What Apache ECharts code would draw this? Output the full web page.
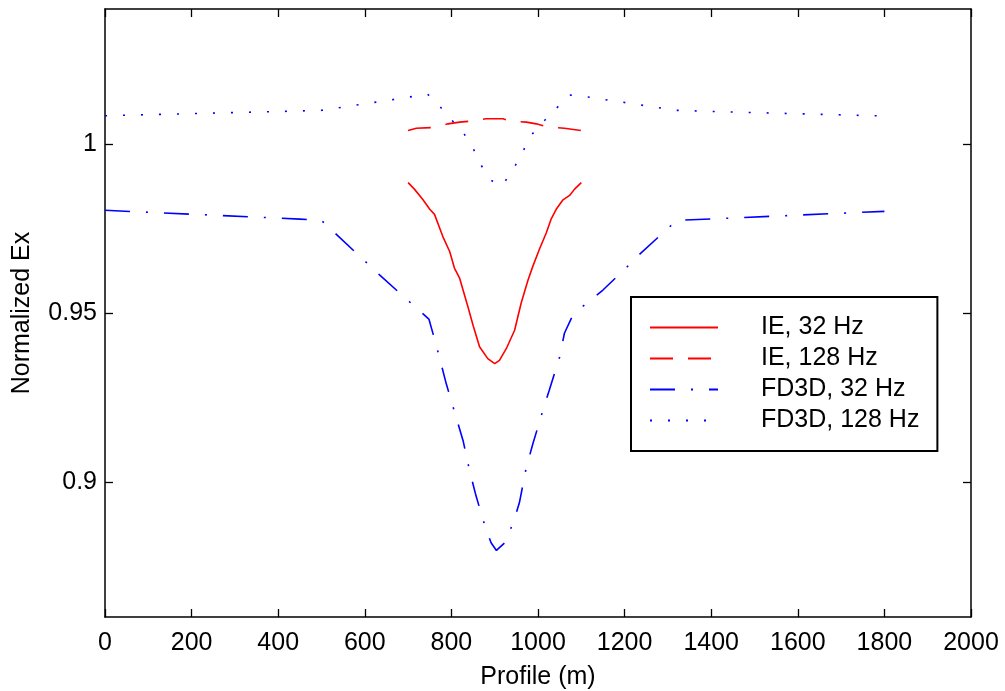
<!DOCTYPE html>
<html>
<head>
<meta charset="utf-8">
<script src="https://cdn.jsdelivr.net/npm/echarts@6/dist/echarts.min.js"></script>
<style>
  html, body { margin: 0; padding: 0; background: #fff; }
  #main { width: 1005px; height: 691px; }
</style>
</head>
<body>
<div id="main"></div>
<script>
// values
const seriesNames = ['IE, 32 Hz', 'IE, 128 Hz', 'FD3D, 32 Hz', 'FD3D, 128 Hz'];

const ie32X = [700, 715, 734, 750, 761, 780, 796, 807, 819, 838, 850, 865, 884, 900, 911, 927, 946, 961, 977, 988, 1003, 1019, 1030, 1042, 1057, 1073, 1084, 1100];
const ie32Y = [0.9886, 0.9866, 0.9836, 0.9807, 0.9792, 0.9727, 0.9682, 0.9633, 0.9603, 0.9519, 0.9464, 0.9400, 0.9365, 0.9350, 0.9360, 0.9395, 0.9449, 0.9529, 0.9598, 0.9638, 0.9688, 0.9737, 0.9777, 0.9807, 0.9834, 0.9848, 0.9866, 0.9886];

const ie128X = [700, 719, 754, 792, 819, 844, 880, 919, 934, 973, 996, 1023, 1061, 1100];
const ie128Y = [1.0040, 1.0047, 1.0049, 1.0060, 1.0065, 1.0068, 1.0075, 1.0075, 1.0069, 1.0065, 1.0060, 1.0051, 1.0047, 1.0040];

const fd32X = [0, 450, 500, 634, 692, 748, 765, 788, 811, 827, 842, 857, 880, 892, 904, 927, 950, 957, 973, 988, 1011, 1026, 1050, 1061, 1077, 1103, 1150, 1203, 1234, 1320, 1800];
const fd32Y = [0.9804, 0.9778, 0.9774, 0.9613, 0.9546, 0.9482, 0.9405, 0.9291, 0.9191, 0.9122, 0.9033, 0.8958, 0.8859, 0.8819, 0.8797, 0.8824, 0.8909, 0.8938, 0.9043, 0.9112, 0.9211, 0.9271, 0.9370, 0.9440, 0.9484, 0.9519, 0.9568, 0.9633, 0.9673, 0.9774, 0.9801];

const fd128X = [0, 415, 500, 661, 745, 773, 800, 828, 850, 867, 889, 910, 921, 944, 964, 982, 1010, 1038, 1075, 1104, 1146, 1186, 1226, 1320, 1392, 1806];
const fd128Y = [1.0084, 1.0097, 1.0100, 1.0131, 1.0148, 1.0112, 1.0072, 1.0033, 0.9988, 0.9941, 0.9896, 0.9876, 0.9884, 0.9928, 0.9975, 1.0023, 1.0063, 1.0101, 1.0145, 1.0142, 1.0133, 1.0126, 1.0118, 1.0100, 1.0097, 1.0083];

const yTicks = [0.9, 0.95, 1];

const zip = (xs, ys) => xs.map((x, i) => [x, ys[i]]);
const font = "'Liberation Sans', Arial, sans-serif";

const chart = echarts.init(document.getElementById('main'));

const xBase = {
  type: 'value', min: 0, max: 2000, interval: 200,
  axisLine: { onZero: false, lineStyle: { color: '#000', width: 1.5 } },
  axisTick: { show: true, inside: true, length: 8, lineStyle: { color: '#000', width: 1.3 } },
  splitLine: { show: false }
};
const yBase = {
  type: 'value', min: 0.86, max: 1.04,
  axisLine: { show: true, onZero: false, lineStyle: { color: '#000', width: 1.5 } },
  axisTick: { show: true, inside: true, length: 8, customValues: yTicks, lineStyle: { color: '#000', width: 1.3 } },
  splitLine: { show: false }
};

function line(name, data, color, type) {
  return {
    name: name, type: 'line', data: data, symbol: 'none', animation: false,
    xAxisIndex: 0, yAxisIndex: 0,
    lineStyle: { color: color, width: 1.6, type: type },
    itemStyle: { color: color }
  };
}

chart.setOption({
  backgroundColor: '#fff',
  textStyle: { fontFamily: font },
  grid: { left: 105, right: 34, top: 9, bottom: 74, containLabel: false, outerBoundsMode: 'none' },
  legend: {
    orient: 'vertical', left: 631, top: 297,
    padding: [18, 18, 18, 18],
    itemWidth: 68, itemHeight: 14, itemGap: 6,
    backgroundColor: '#fff', borderColor: '#000', borderWidth: 2, borderRadius: 0,
    itemStyle: { opacity: 0 },
    textStyle: { fontSize: 25, lineHeight: 24, color: '#000', fontFamily: font, padding: [0, 0, 0, 38] },
    data: seriesNames
  },
  xAxis: [
    Object.assign({}, xBase, {
      position: 'bottom',
      name: 'Profile (m)', nameLocation: 'middle', nameGap: 48,
      nameTextStyle: { fontSize: 25, color: '#000', fontFamily: font },
      axisLabel: { fontSize: 25, color: '#000', margin: 14, fontFamily: font, formatter: v => String(v) }
    }),
    Object.assign({}, xBase, { position: 'top', axisLabel: { show: false } })
  ],
  yAxis: [
    Object.assign({}, yBase, {
      position: 'left',
      name: 'Normalized Ex', nameLocation: 'middle', nameGap: 70,
      nameTextStyle: { fontSize: 25, color: '#000', fontFamily: font },
      axisLabel: { fontSize: 25, color: '#000', margin: 8, fontFamily: font, customValues: yTicks, formatter: v => String(v) }
    }),
    Object.assign({}, yBase, { position: 'right', axisLabel: { show: false } })
  ],
  series: [
    line(seriesNames[0], zip(ie32X, ie32Y), '#ff0000', 'solid'),
    line(seriesNames[1], zip(ie128X, ie128Y), '#ff0000', [23, 15]),
    line(seriesNames[2], zip(fd32X, fd32Y), '#0000ff', [25, 16, 2, 16]),
    line(seriesNames[3], zip(fd128X, fd128Y), '#0000ff', [2, 16])
  ]
});
</script>
</body>
</html>
